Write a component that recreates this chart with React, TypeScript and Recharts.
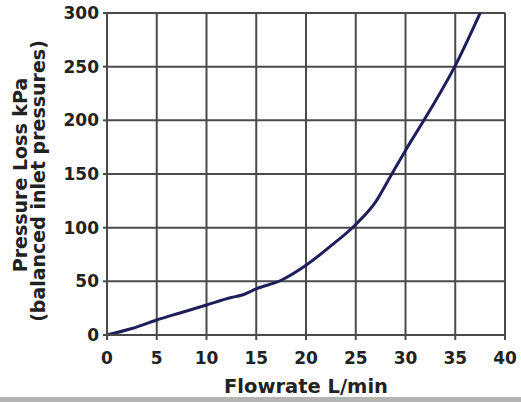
import { LineChart, Line, XAxis, YAxis, CartesianGrid, Label } from "recharts";

const flow = [0, 2.5, 5, 7.5, 10, 12.5, 13.5, 15, 17.5, 20, 22.5, 25, 27, 28.5, 30, 32.5, 35, 37.5];
const loss = [0, 6, 14, 21, 28, 35, 37, 43, 51, 65, 83, 103, 124, 148, 172, 210, 251, 300];
const xTicks = [0, 5, 10, 15, 20, 25, 30, 35, 40];
const yTicks = [0, 50, 100, 150, 200, 250, 300];

const data = flow.map((f, i) => ({ flow: f, loss: loss[i] }));

const font = "'DejaVu Sans', sans-serif";
const ink = "#222";
const grid = "#4a4a4a";

const YTitle = () => (
  <g fill={ink} fontFamily={font} fontWeight="bold" fontSize={19}>
    <text x={27} y={175} textAnchor="middle" transform="rotate(-90, 27, 175)">
      Pressure Loss kPa
    </text>
    <text x={45} y={181} textAnchor="middle" transform="rotate(-90, 45, 181)">
      (balanced inlet pressures)
    </text>
  </g>
);

export default function App() {
  return (
    <div style={{ position: "absolute", left: 0, top: 0, width: 521, height: 402, background: "#fff" }}>
      <LineChart width={521} height={397} data={data} margin={{ top: 13, right: 16, left: 0, bottom: 0 }}>
        <CartesianGrid stroke={grid} strokeWidth={2} horizontalValues={yTicks} verticalValues={xTicks} />
        <XAxis
          dataKey="flow"
          type="number"
          domain={[0, 40]}
          ticks={xTicks}
          height={62}
          stroke={grid}
          strokeWidth={2}
          tickSize={5}
          tickMargin={12}
          tick={{ fill: ink, fontFamily: font, fontWeight: "bold", fontSize: 17 }}
        >
          <Label
            value="Flowrate L/min"
            position="insideBottom"
            offset={4}
            fill={ink}
            fontFamily={font}
            fontWeight="bold"
            fontSize={19.5}
          />
        </XAxis>
        <YAxis
          type="number"
          domain={[0, 300]}
          ticks={yTicks}
          width={107}
          stroke={grid}
          strokeWidth={2}
          tickSize={4}
          tickMargin={4}
          tick={{ fill: ink, fontFamily: font, fontWeight: "bold", fontSize: 17 }}
        >
          <Label content={() => <YTitle />} />
        </YAxis>
        <Line
          type="monotone"
          dataKey="loss"
          stroke="#1e1e5c"
          strokeWidth={3}
          dot={false}
          isAnimationActive={false}
        />
      </LineChart>
      <div style={{ position: "absolute", left: 0, top: 397, width: 521, height: 5, background: "#b4b4b4" }} />
    </div>
  );
}
